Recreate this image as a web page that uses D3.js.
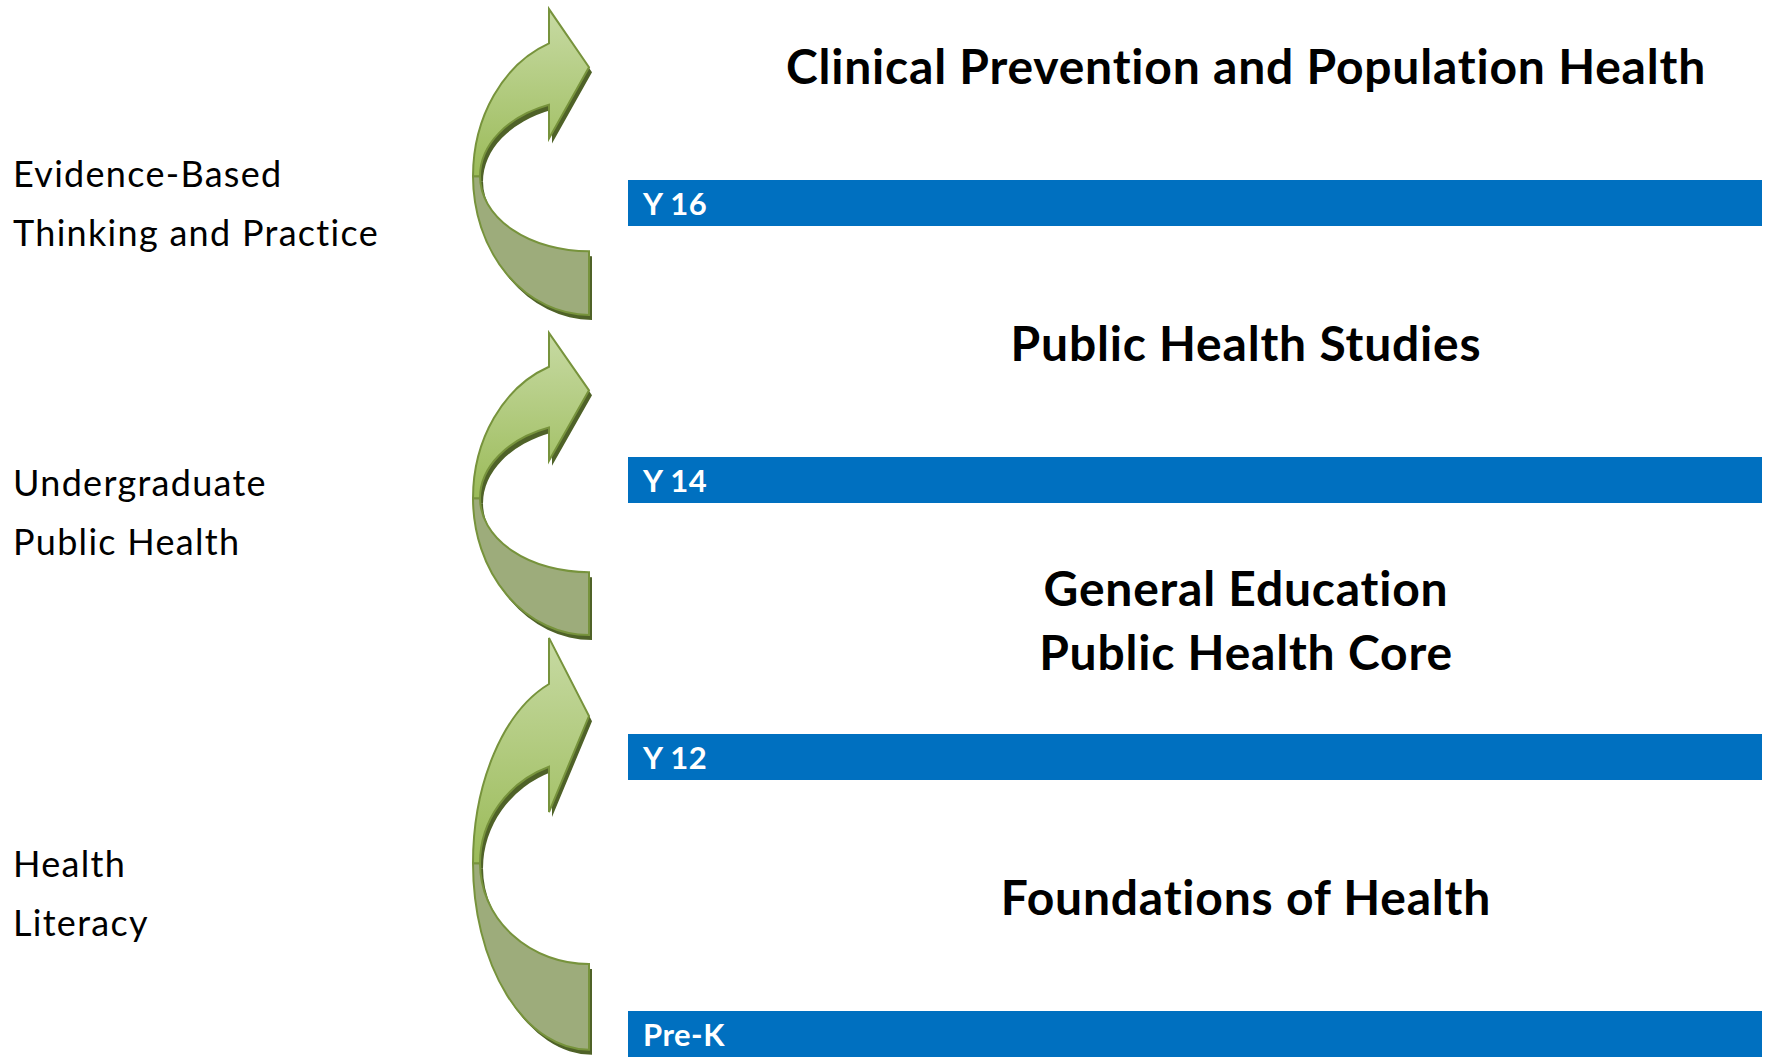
<!DOCTYPE html>
<html>
<head>
<meta charset="utf-8">
<script src="https://cdn.jsdelivr.net/npm/d3@7"></script>
<style>
  html, body { margin: 0; padding: 0; background: #ffffff; }
  svg { display: block; }
</style>
</head>
<body>
<script>
// ---------- data ----------
const levels = ["Pre-K", "Y 12", "Y 14", "Y 16"];
const stageTitles = [
  ["Foundations of Health"],
  ["General Education", "Public Health Core"],
  ["Public Health Studies"],
  ["Clinical Prevention and Population Health"]
];
const pathwayLabels = [
  ["Health", "Literacy"],
  ["Undergraduate", "Public Health"],
  ["Evidence-Based", "Thinking and Practice"]
];
// level range covered by each curved arrow (bottom, top), in level units
const arrowSpans = [[-0.14, 1.347], [1.357, 2.448], [2.513, 3.617]];
// first-line baseline of each pathway label, in level units
const labelLevels = [0.484, 1.859, 2.975];

// ---------- layout ----------
const W = 1768, H = 1061;
const svg = d3.select("body").append("svg").attr("width", W).attr("height", H);

const y = d3.scaleLinear().domain([0, 3]).range([1011, 180]);
const x = d3.scaleLinear().domain([0, 1]).range([628, 1762]);
const barH = 46;

const defs = svg.append("defs");
const grad = defs.append("linearGradient").attr("id", "upGrad")
  .attr("x1", 0).attr("y1", 0).attr("x2", 0).attr("y2", 1);
grad.append("stop").attr("offset", "0%").attr("stop-color", "#C7DAA3");
grad.append("stop").attr("offset", "100%").attr("stop-color", "#9BBB59");

// ---------- bars ----------
const bars = svg.append("g").selectAll("g").data(levels).join("g");
bars.append("rect")
  .attr("x", x(0)).attr("width", x(1) - x(0))
  .attr("y", (d, i) => y(i)).attr("height", barH)
  .attr("fill", "#0070C0");
bars.append("text")
  .attr("x", x(0) + 15).attr("y", (d, i) => y(i) + 35)
  .attr("fill", "#ffffff")
  .attr("font-family", "Lato, 'Open Sans', sans-serif")
  .attr("font-weight", 700).attr("font-size", 31)
  .attr("letter-spacing", 0.5)
  .text(d => d);

// ---------- stage titles ----------
const titleSize = 48, titleLine = 64;
const titles = svg.append("g").selectAll("text").data(stageTitles).join("text")
  .attr("text-anchor", "middle")
  .attr("font-family", "Lato, 'Open Sans', sans-serif")
  .attr("font-weight", 700).attr("font-size", titleSize)
  .attr("letter-spacing", 0.8)
  .attr("fill", "#000");
titles.each(function(lines, i) {
  const cy = y(i + 0.5) + barH / 2 + 3;
  const n = lines.length;
  d3.select(this).selectAll("tspan").data(lines).join("tspan")
    .attr("x", 1246)
    .attr("y", (l, j) => cy + (j - (n - 1) / 2) * titleLine + titleSize * 0.34)
    .text(l => l);
});

// ---------- pathway labels ----------
const labels = svg.append("g").selectAll("text").data(pathwayLabels).join("text")
  .attr("font-family", "Lato, 'Open Sans', sans-serif")
  .attr("font-size", 36).attr("letter-spacing", 1.3).attr("fill", "#000");
labels.each(function(lines, i) {
  d3.select(this).selectAll("tspan").data(lines).join("tspan")
    .attr("x", 13)
    .attr("y", (l, j) => y(labelLevels[i]) + j * 59)
    .text(l => l);
});

// ---------- curved arrows ----------
const xN = 549, xR = 589, xL = 473, xC = 480;
function arrowGeom(span) {
  const B = y(span[0]), T = y(span[1]), h = B - T;
  return {
    T, B,
    a1: T + 0.112 * h, tip: T + 0.19 * h, a2: T + 0.313 * h,
    hb: T + 0.423 * h, yC: T + 0.547 * h, ib: T + 0.792 * h
  };
}
function upperPath(g) {
  const rxO = xR - xL, kO = Math.sqrt(1 - Math.pow((xN - xR) / rxO, 2));
  const ryO = (g.yC - g.a1) / kO;
  const rxI = xR - xC, kI = Math.sqrt(1 - Math.pow((xN - xR) / rxI, 2));
  const ryI = (g.yC - g.a2) / kI;
  return `M${xN},${g.a1} A${rxO},${ryO} 0 0 0 ${xL},${g.yC} L${xC},${g.yC} ` +
    `A${rxI},${ryI} 0 0 1 ${xN},${g.a2} L${xN},${g.hb} L${xR},${g.tip} L${xN},${g.T} Z`;
}
function lowerPath(g) {
  const rxO = xR - xL, ryO = g.B - g.yC;
  const rxI = xR - xC, ryI = g.ib - g.yC;
  return `M${xL},${g.yC} A${rxO},${ryO} 0 0 0 ${xR},${g.B} L${xR},${g.ib} ` +
    `A${rxI},${ryI} 0 0 1 ${xC},${g.yC} Z`;
}
const arrows = svg.append("g").selectAll("g").data(arrowSpans.map(arrowGeom)).join("g");
// shadows
arrows.append("path").attr("d", lowerPath).attr("transform", "translate(3,5)")
  .attr("fill", "#4F6228");
arrows.append("path").attr("d", upperPath).attr("transform", "translate(3,5)")
  .attr("fill", "#4F6228");
// band
arrows.append("path").attr("d", lowerPath)
  .attr("fill", "#9DAC7B").attr("stroke", "#77933C").attr("stroke-width", 2)
  .attr("stroke-linejoin", "miter");
// upper arrow
arrows.append("path").attr("d", upperPath)
  .attr("fill", "url(#upGrad)").attr("stroke", "#77933C").attr("stroke-width", 2)
  .attr("stroke-linejoin", "miter");
</script>
</body>
</html>
